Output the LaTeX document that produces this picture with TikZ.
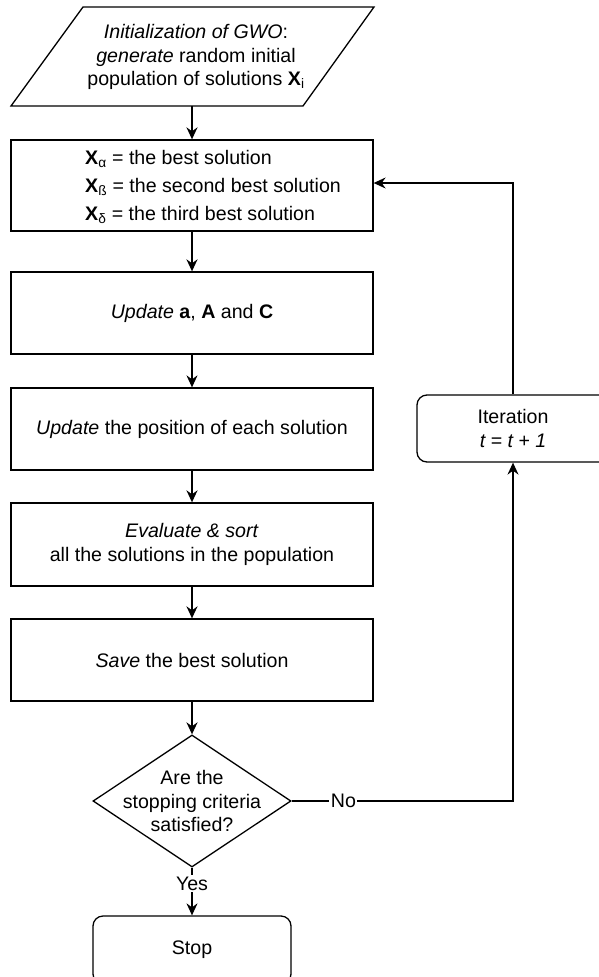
\documentclass[tikz,border=0pt]{standalone}
\usepackage{fontspec}
\setmainfont{Liberation Sans}
\usetikzlibrary{shapes.geometric,arrows.meta}
\begin{document}
\begin{tikzpicture}[x=1pt,y=-1pt,
  every node/.style={font=\fontsize{19.6}{23.5}\selectfont, text=black},
  proc/.style={draw, line width=1.3pt, minimum width=362pt, inner sep=0pt},
  rounded/.style={draw, line width=1.3pt, rounded corners=10pt, inner sep=0pt},
  label/.style={align=center, inner sep=0pt},
  tip/.style={-{Stealth[length=12pt,width=11pt,inset=4pt]}},
  arr/.style={tip, line width=1.3pt},
  thickarr/.style={tip, line width=2pt},
  edgelabel/.style={fill=white, inner sep=1.5pt}
]
\useasboundingbox (0,0) rectangle (599,977);
\clip (0,0) rectangle (599,977);

% input parallelogram
\draw[line width=1.3pt] (83,7) -- (374,7) -- (303,106) -- (11,106) -- cycle;
\coordinate (initS) at (192,106);
\node[label] (init) at (196,57)
  {\textit{Initialization of GWO}:\\
   \textit{generate} random initial\\
   population of solutions \textbf{X}\textsubscript{i}};

% process boxes
\node[proc, minimum height=91pt] (best) at (192,185.5) {};
\node[anchor=west, align=left, inner sep=0pt,
      font=\fontsize{19.6}{28}\selectfont] (bestText) at (85,187)
  {\textbf{X}\textsubscript{α} = the best solution\\
   \textbf{X}\textsubscript{ß} = the second best solution\\
   \textbf{X}\textsubscript{δ} = the third best solution};

\node[proc, minimum height=82pt] (upd) at (192,313)
  {\textit{Update} \textbf{a}, \textbf{A} and \textbf{C}};
\node[proc, minimum height=82pt] (pos) at (192,429)
  {\textit{Update} the position of each solution};
\node[proc, minimum height=83pt, align=center] (eval) at (192,544.5)
  {\textit{Evaluate \& sort}\\all the solutions in the population};
\node[proc, minimum height=82pt] (save) at (192,660)
  {\textit{Save} the best solution};

% decision
\node[diamond, draw, line width=1.3pt, minimum width=198pt,
      minimum height=132pt, inner sep=0pt] (dec) at (192,801) {};
\node[label] (decText) at (dec) {Are the\\stopping criteria\\satisfied?};

% terminal and loop boxes
\node[rounded, minimum width=198pt, minimum height=68pt] (stop) at (192,950) {Stop};
\node[rounded, minimum width=192pt, minimum height=67pt, align=center] (iter) at (513,428.5)
  {Iteration\\\textit{t = t + 1}};

% connectors
\draw[thickarr] (initS) -- (best);
\draw[thickarr] (best) -- (upd);
\draw[arr] (upd) -- (pos);
\draw[thickarr] (pos) -- (eval);
\draw[thickarr] (eval) -- (save);
\draw[thickarr] (save) -- (dec);
\draw[arr] (dec.south) -- node[edgelabel, pos=0.33] {Yes} (stop.north);
\draw[arr] (dec.east) -| node[edgelabel, pos=0.117] {No} (iter.south);
\draw[arr] (iter.north) |- ([yshift=2.5pt]best.east);
\end{tikzpicture}
\end{document}
